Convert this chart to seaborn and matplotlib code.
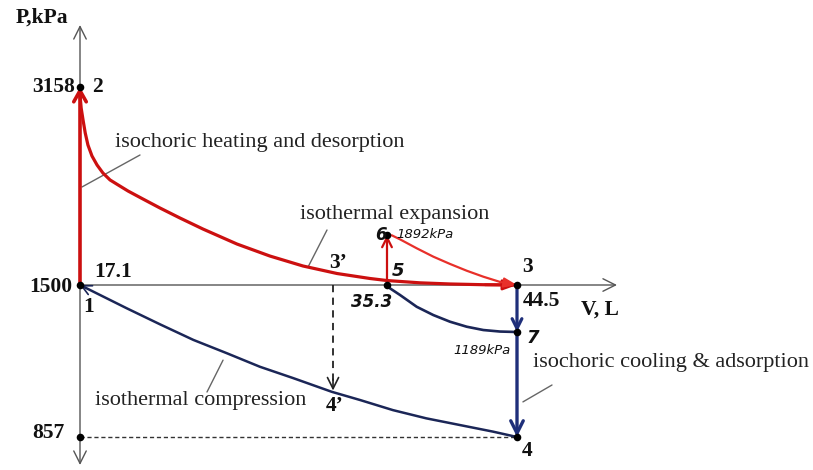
import numpy as np
import matplotlib
matplotlib.use("Agg")
import matplotlib.pyplot as plt
import seaborn as sns

# ---- state points of the cycle (V in L, P in kPa) ----
V_1 = 17.1      # points 1 and 2
V_5 = 35.3      # points 5 and 6
V_3 = 44.5      # points 3, 7 and 4
V_3P = 32.1     # points 3' and 4'
P_2 = 3158
P_1 = 1500
P_4 = 857
P_6 = 1892
P_7 = 1189
P_4P = 1000

# ---- process curves ----
hot_v = [17.10, 17.17, 17.28, 17.41, 17.57, 17.81, 18.11, 18.46, 18.88, 19.35,
         19.95, 20.83, 21.84, 23.03, 24.39, 26.41, 28.36, 30.32, 32.34, 34.29,
         35.3, 37.64, 39.76, 42.24, 44.5]
hot_p = [3090, 2978, 2876, 2765, 2662, 2568, 2491, 2422, 2363, 2321,
         2268, 2200, 2123, 2037, 1943, 1821, 1727, 1649, 1590, 1551,
         1535, 1517, 1508, 1502, 1500]

branch_v = [35.63, 36.22, 37.40, 38.58, 39.76, 40.94, 42.12, 43.30, 44.5]
branch_p = [1890, 1858, 1788, 1722, 1665, 1612, 1565, 1524, 1500]

cool_v = [35.3, 35.51, 36.22, 37.40, 38.58, 39.76, 40.94, 42.12, 43.30, 44.5]
cool_p = [1500, 1478, 1434, 1356, 1301, 1257, 1224, 1202, 1192, 1189]

comp_v = [17.1, 17.30, 17.89, 19.87, 21.84, 23.82, 25.80, 27.77, 29.75, 32.02,
          33.70, 35.72, 38.08, 40.44, 42.80, 44.5]
comp_p = [1500, 1489, 1456, 1346, 1240, 1164, 1122, 1079, 1043, 1000,
          974, 942, 916, 895, 874, 857]

# ---- schematic (piecewise-linear) axis layout ----
x_nodes_val = [V_1, V_5, V_3]
x_nodes_pos = [80, 387, 517]
y_nodes_val = [P_4, P_7, P_1, P_6, P_2]
y_nodes_pos = [33, 138, 185, 235, 383]
W, H = 813, 470


def piecewise(v, xs, ys):
    v = np.asarray(v, dtype=float)
    out = np.interp(v, xs, ys)
    lo_slope = (ys[1] - ys[0]) / (xs[1] - xs[0])
    hi_slope = (ys[-1] - ys[-2]) / (xs[-1] - xs[-2])
    out = np.where(v < xs[0], ys[0] + (v - xs[0]) * lo_slope, out)
    out = np.where(v > xs[-1], ys[-1] + (v - xs[-1]) * hi_slope, out)
    return out


fx = (lambda v: piecewise(v, x_nodes_val, x_nodes_pos),
      lambda p: piecewise(p, x_nodes_pos, x_nodes_val))
fy = (lambda v: piecewise(v, y_nodes_val, y_nodes_pos),
      lambda p: piecewise(p, y_nodes_pos, y_nodes_val))

sns.set_theme(style="white")
plt.rcParams["font.family"] = ["Liberation Serif", "DejaVu Sans"]

RED = "#cc1010"
RED_LIGHT = "#e8302a"
NAVY = "#1b2657"
BLUE = "#1f2f7a"
AXIS = "#555555"
LEADER = "#666666"

fig = plt.figure(figsize=(W / 100, H / 100), dpi=100)
ax = fig.add_axes([0, 0, 1, 1])
ax.set_xscale("function", functions=fx)
ax.set_yscale("function", functions=fy)

# axes with arrows
ax.annotate("", xy=(V_1, 1 - 25 / H), xycoords=("data", "axes fraction"),
            xytext=(V_1, 1 - 465 / H), textcoords=("data", "axes fraction"),
            arrowprops=dict(arrowstyle="<->,head_length=0.9,head_width=0.45",
                            color=AXIS, lw=1.0, shrinkA=0, shrinkB=0,
                            mutation_scale=10), zorder=1)
ax.annotate("", xy=(617 / W, P_1), xycoords=("axes fraction", "data"),
            xytext=(V_1, P_1), textcoords="data",
            arrowprops=dict(arrowstyle="->,head_length=0.9,head_width=0.45",
                            color=AXIS, lw=1.0, shrinkA=0, shrinkB=0,
                            mutation_scale=10), zorder=1)

# dashed guides
ax.plot([V_1, V_3], [P_4, P_4], ls=(0, (3, 2)), color="#333333", lw=1.0, zorder=1)
ax.plot([V_3P, V_3P], [P_1, P_4P + 25], ls=(0, (4, 3)), color="#222222", lw=1.3, zorder=2)
ax.annotate("", xy=(V_3P, P_4P + 4), xytext=(V_3P, P_4P + 40),
            arrowprops=dict(arrowstyle="->,head_length=0.8,head_width=0.4",
                            color="#222222", lw=1.2, shrinkA=0, shrinkB=0,
                            mutation_scale=10), zorder=2)

# process curves
sns.lineplot(x=hot_v, y=hot_p, sort=False, estimator=None, color=RED, lw=2.3, ax=ax, zorder=4)
sns.lineplot(x=branch_v, y=branch_p, sort=False, estimator=None, color=RED_LIGHT, lw=1.6, ax=ax, zorder=4)
sns.lineplot(x=cool_v, y=cool_p, sort=False, estimator=None, color=NAVY, lw=1.9, ax=ax, zorder=4)
sns.lineplot(x=comp_v, y=comp_p, sort=False, estimator=None, color=NAVY, lw=1.8, ax=ax, zorder=4)


def arrow(x0, y0, x1, y1, color, lw, style="->", hl=0.8, hw=0.4, z=5):
    ax.annotate("", xy=(x1, y1), xytext=(x0, y0),
                arrowprops=dict(arrowstyle=f"{style},head_length={hl},head_width={hw}",
                                color=color, lw=lw, shrinkA=0, shrinkB=0,
                                mutation_scale=10), zorder=z)


# isochoric legs
arrow(V_1, P_1, V_1, P_2, RED, 2.6, hl=0.8, hw=0.45)
arrow(V_5, P_1, V_5, P_6, RED, 1.6, hl=0.7, hw=0.35)
arrow(V_3, P_1, V_3, P_7, BLUE, 2.3, hl=0.7, hw=0.35)
arrow(V_3, P_7, V_3, P_4, BLUE, 2.4, hl=0.9, hw=0.45)
# arrow heads at curve ends
arrow(hot_v[-2], hot_p[-2], hot_v[-1], hot_p[-1], RED, 2.0, style="-|>", hl=0.8, hw=0.3)
arrow(branch_v[-2], branch_p[-2], branch_v[-1], branch_p[-1], RED_LIGHT, 1.4, style="-|>", hl=0.8, hw=0.3)
arrow(comp_v[1], comp_p[1], comp_v[0], comp_p[0], NAVY, 1.2, hl=0.7, hw=0.35)

# state points
pts_v = [V_1, V_1, V_1, V_5, V_5, V_3, V_3, V_3]
pts_p = [P_2, P_1, P_4, P_1, P_6, P_1, P_7, P_4]
sns.scatterplot(x=pts_v, y=pts_p, color="black", s=30, linewidth=0, ax=ax, zorder=6)

# point and value labels
serif_b = dict(family=["Liberation Serif", "DejaVu Sans"], weight="bold", fontsize=15.5)
sans_i = dict(family="DejaVu Sans", style="italic")


def label(text, x, y, dx, dy, ha="center", va="center", **kw):
    ax.annotate(text, xy=(x, y), xytext=(dx, dy), textcoords="offset pixels",
                ha=ha, va=va, color="#111111", zorder=7, **kw)


label("3158", V_1, P_2, -5, 0, ha="right", **serif_b)
label("2", V_1, P_2, 12, 0, ha="left", **serif_b)
label("1500", V_1, P_1, -8, -2, ha="right", **serif_b)
label("1", V_1, P_1, 9, -22, **serif_b)
label("17.1", V_1, P_1, 33, 13, **serif_b)
label("857", V_1, P_4, -16, 4, ha="right", **serif_b)
label("3\u2019", V_3P, P_1, 5, 22, **serif_b)
label("4\u2019", V_3P, P_4P, 2, -14, **serif_b)
label("3", V_3, P_1, 10, 18, **serif_b)
label("44.5", V_3, P_1, 6, -16, ha="left", **serif_b)
label("4", V_3, P_4, 10, -14, **serif_b)
label("5", V_5, P_1, 11, 14, fontsize=13, weight="bold", **sans_i)
label("35.3", V_5, P_1, -15, -17, fontsize=12, weight="bold", **sans_i)
label("6", V_5, P_6, -6, 0, fontsize=12, weight="bold", **sans_i)
label("1892kPa", V_5, P_6, 9, 1, ha="left", fontsize=9.5, **sans_i)
label("7", V_3, P_7, 16, -6, fontsize=13, weight="bold", **sans_i)
label("1189kPa", V_3, P_7, -6, -18, ha="right", fontsize=9.5, **sans_i)

# axis titles
ax.text(42 / W, 1 - 18 / H, "P,kPa", transform=ax.transAxes, ha="center", va="center",
        color="#111111", **serif_b)
ax.text(600 / W, 1 - 310 / H, "V, L", transform=ax.transAxes, ha="center", va="center",
        color="#111111", **serif_b)

# process descriptions with leader lines
desc = dict(family=["Liberation Serif", "DejaVu Sans"], fontsize=16, color="#222222")
ax.text(115 / W, 1 - 142 / H, "isochoric heating and desorption", transform=ax.transAxes,
        ha="left", va="center", **desc)
ax.text(300 / W, 1 - 214 / H, "isothermal expansion", transform=ax.transAxes,
        ha="left", va="center", **desc)
ax.text(533 / W, 1 - 362 / H, "isochoric cooling & adsorption", transform=ax.transAxes,
        ha="left", va="center", **desc)
ax.text(95 / W, 1 - 400 / H, "isothermal compression", transform=ax.transAxes,
        ha="left", va="center", **desc)


def leader(x, y, fx_, fy_):
    ax.annotate("", xy=(x, y), xytext=(fx_ / W, 1 - fy_ / H), textcoords="axes fraction",
                arrowprops=dict(arrowstyle="-", color=LEADER, lw=1.0,
                                shrinkA=0, shrinkB=0), zorder=3)


leader(17.22, 2303, 140, 155)
leader(30.62, 1641, 327, 230)
leader(44.92, 968, 552, 385)
leader(25.58, 1100, 207, 392)

ax.set_xlim(float(fx[1](0)), float(fx[1](W)))
ax.set_ylim(float(fy[1](0)), float(fy[1](H)))
ax.set_axis_off()

fig.savefig("out.png", dpi=100, facecolor="white")
